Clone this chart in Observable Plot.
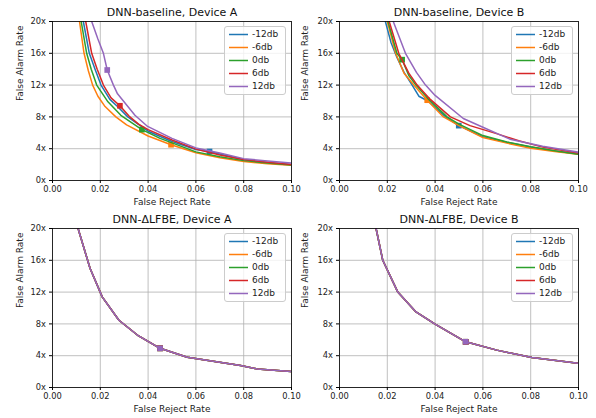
<!DOCTYPE html>
<html><head><meta charset="utf-8">
<script src="https://cdn.jsdelivr.net/npm/d3@7"></script>
<script src="https://cdn.jsdelivr.net/npm/@observablehq/plot@0.6"></script>
<style>
body{margin:0;background:#fff;font-family:"DejaVu Sans",sans-serif;}
#wrap{position:relative;width:596px;height:418px;overflow:hidden;background:#fff;}
.panel{position:absolute;width:298px;height:209px;}
.panel svg{overflow:visible;}
.legend{position:absolute;border:1px solid #cccccc;border-radius:3px;background:rgba(255,255,255,0.8);box-sizing:border-box;font-size:9px;color:#222;}
.legend .row{position:absolute;left:0;height:13px;line-height:13px;white-space:nowrap;}
.legend .row svg{position:absolute;left:3px;top:0;}
.legend .row span{position:absolute;left:27px;top:0;}
</style>
</head><body>
<div id="wrap"></div>
<script>
const xTicks = [0, 0.02, 0.04, 0.06, 0.08, 0.1];
const yTicks = [0, 4, 8, 12, 16, 20];
const seriesNames = ["-12db", "-6db", "0db", "6db", "12db"];
const colors = ["#1f77b4", "#ff7f0e", "#2ca02c", "#d62728", "#9467bd"];
const panelTitles = ["DNN-baseline, Device A", "DNN-baseline, Device B", "DNN-ΔLFBE, Device A", "DNN-ΔLFBE, Device B"];
const xLabel = "False Reject Rate";
const yLabel = "False Alarm Rate";

// [False Reject Rate, False Alarm Rate] — DNN-baseline, Device A
const baseA_m12 = [[0.0124,21],[0.0129,20],[0.0154,16],[0.0178,14],[0.0203,12],[0.0240,10.2],[0.0272,9.3],[0.0315,8.0],[0.0400,6.2],[0.0500,4.9],[0.0600,3.9],[0.0657,3.65],[0.0800,2.6],[0.0900,2.25],[0.1000,2.0]];
const baseA_m6  = [[0.0108,21],[0.0113,20],[0.0132,16],[0.0150,13.8],[0.0168,12],[0.0190,10.6],[0.0220,9.3],[0.0265,8.0],[0.0310,7.0],[0.0400,5.6],[0.0496,4.5],[0.0600,3.48],[0.0700,2.85],[0.0800,2.4],[0.0900,2.1],[0.1000,1.9]];
const baseA_0   = [[0.0115,21],[0.0120,20],[0.0143,16],[0.0162,14],[0.0185,12],[0.0232,9.9],[0.0286,8.2],[0.0374,6.4],[0.0450,5.3],[0.0600,3.6],[0.0700,3.0],[0.0800,2.5],[0.0900,2.2],[0.1000,1.95]];
const baseA_6   = [[0.0132,21],[0.0139,20],[0.0164,16],[0.0187,14],[0.0213,12],[0.0245,10.4],[0.0282,9.4],[0.0320,8.1],[0.0360,7.1],[0.0400,6.4],[0.0500,5.1],[0.0600,3.95],[0.0700,3.2],[0.0800,2.65],[0.0900,2.3],[0.1000,2.0]];
const baseA_12  = [[0.0158,21],[0.0164,20],[0.0190,17.8],[0.0213,16],[0.0229,13.9],[0.0255,12],[0.0272,10.9],[0.0345,8.2],[0.0398,6.8],[0.0500,5.3],[0.0600,4.1],[0.0700,3.45],[0.0800,2.75],[0.0900,2.45],[0.1000,2.2]];
const baseA_ops = [[0.0657,3.65],[0.0496,4.5],[0.0374,6.4],[0.0282,9.4],[0.0229,13.9]];

// DNN-baseline, Device B
const baseB_m12 = [[0.0188,21],[0.0192,20],[0.0215,17.4],[0.0240,15.5],[0.0270,13.6],[0.0304,12],[0.0332,10.6],[0.0370,10.0],[0.0444,8.0],[0.0499,6.9],[0.0600,5.5],[0.0700,4.8],[0.0800,4.2],[0.0900,3.7],[0.1000,3.35]];
const baseB_m6  = [[0.0195,21],[0.0200,20],[0.0235,16],[0.0270,13.5],[0.0311,12],[0.0367,10.1],[0.0435,8.0],[0.0500,6.9],[0.0600,5.4],[0.0700,4.7],[0.0800,4.05],[0.0900,3.65],[0.1000,3.3]];
const baseB_0   = [[0.0198,21],[0.0203,20],[0.0240,16],[0.0262,15.2],[0.0290,13.2],[0.0320,12],[0.0370,10.3],[0.0450,8.0],[0.0500,7.1],[0.0600,5.65],[0.0700,4.85],[0.0800,4.25],[0.0900,3.75],[0.1000,3.3]];
const baseB_6   = [[0.0203,21],[0.0208,20],[0.0248,16],[0.0290,13.5],[0.0325,12],[0.0380,10.2],[0.0464,8.0],[0.0546,6.9],[0.0657,5.9],[0.0750,5.0],[0.0850,4.2],[0.1000,3.45]];
const baseB_12  = [[0.0218,21],[0.0225,20],[0.0276,16],[0.0322,13.6],[0.0360,12],[0.0400,10.7],[0.0518,7.8],[0.0600,6.7],[0.0713,5.2],[0.0850,4.3],[0.1000,3.56]];
const baseB_ops = [[0.0499,6.9],[0.0367,10.1],[0.0262,15.2],null,null];

// DNN-ΔLFBE (all SNR conditions coincide)
const lfbeA_curve = [[0.0107,20],[0.0157,15.0],[0.0208,11.4],[0.0278,8.46],[0.0355,6.6],[0.0450,4.93],[0.0564,3.8],[0.0787,2.76],[0.0857,2.33],[0.1000,2.0]];
const lfbeA_op = [0.0450,4.93];
const lfbeB_curve = [[0.0153,20],[0.0181,16.0],[0.0244,12.0],[0.0320,9.5],[0.0400,7.96],[0.0528,5.75],[0.0658,4.7],[0.0805,3.77],[0.1000,3.05]];
const lfbeB_op = [0.0528,5.75];

const panels = [
  {title: panelTitles[0], curves: [baseA_m12, baseA_m6, baseA_0, baseA_6, baseA_12], ops: baseA_ops, left: 0, top: 0, ml: 52, mr: 7, ydx: -32},
  {title: panelTitles[1], curves: [baseB_m12, baseB_m6, baseB_0, baseB_6, baseB_12], ops: baseB_ops, left: 298, top: 0, ml: 41, mr: 18, ydx: -34},
  {title: panelTitles[2], curves: seriesNames.map(() => lfbeA_curve), ops: seriesNames.map(() => lfbeA_op), left: 0, top: 207, ml: 52, mr: 7, ydx: -32},
  {title: panelTitles[3], curves: seriesNames.map(() => lfbeB_curve), ops: seriesNames.map(() => lfbeB_op), left: 298, top: 207, ml: 41, mr: 18, ydx: -34}
];

const wrap = document.getElementById("wrap");
const W = 298, H = 209, MT = 21, MB = 29;

for (const p of panels) {
  const marks = [
    Plot.gridX(xTicks, {stroke: "#b0b0b0", strokeOpacity: 1, strokeWidth: 0.8}),
    Plot.gridY(yTicks, {stroke: "#b0b0b0", strokeOpacity: 1, strokeWidth: 0.8})
  ];
  p.curves.forEach((c, i) => {
    marks.push(Plot.line(c, {x: d => d[0], y: d => d[1], stroke: colors[i], strokeWidth: 1.5, clip: true}));
    if (p.ops[i]) marks.push(Plot.dot([p.ops[i]], {x: d => d[0], y: d => d[1], symbol: "square", fill: colors[i], r: 3.2, clip: true}));
  });
  marks.push(Plot.frame({stroke: "#000", strokeWidth: 0.8}));
  marks.push(Plot.axisX(xTicks, {tickFormat: d3.format(".2f"), tickSize: 3, tickPadding: 3, fontSize: 8.3, label: null, stroke: "#000"}));
  marks.push(Plot.axisY(yTicks, {tickFormat: d => d + "x", tickSize: 3, tickPadding: 3.5, fontSize: 8.3, label: null, stroke: "#000"}));
  marks.push(Plot.text([p.title], {frameAnchor: "top", lineAnchor: "middle", dy: -9.5, fontSize: 11, fill: "#111"}));
  marks.push(Plot.text([xLabel], {frameAnchor: "bottom", lineAnchor: "middle", dy: 22, fontSize: 9, fill: "#222"}));
  marks.push(Plot.text([yLabel], {frameAnchor: "left", lineAnchor: "middle", dx: p.ydx, rotate: -90, fontSize: 9, fill: "#222"}));

  const chart = Plot.plot({
    width: W, height: H,
    marginLeft: p.ml, marginRight: p.mr, marginTop: MT, marginBottom: MB,
    x: {domain: [0, 0.1]},
    y: {domain: [0, 20]},
    style: {fontFamily: "DejaVu Sans", color: "#222", background: "transparent", overflow: "visible"},
    marks
  });
  const div = document.createElement("div");
  div.className = "panel";
  div.style.left = p.left + "px";
  div.style.top = p.top + "px";
  div.appendChild(chart);
  wrap.appendChild(div);

  // legend (top-right inside the plot frame)
  const lg = document.createElement("div");
  lg.className = "legend";
  const plotRight = p.left + W - p.mr;
  const lw = 62;
  lg.style.left = (plotRight - 5 - lw) + "px";
  lg.style.top = (p.top + MT + 5) + "px";
  lg.style.width = lw + "px";
  lg.style.height = "69px";
  seriesNames.forEach((name, i) => {
    const row = document.createElement("div");
    row.className = "row";
    row.style.top = (1 + 13 * i) + "px";
    row.style.width = lw + "px";
    row.innerHTML = `<svg width="22" height="13"><line x1="1" x2="20" y1="6.5" y2="6.5" stroke="${colors[i]}" stroke-width="1.5"/></svg><span>${name}</span>`;
    lg.appendChild(row);
  });
  wrap.appendChild(lg);
}
</script>
</body></html>
